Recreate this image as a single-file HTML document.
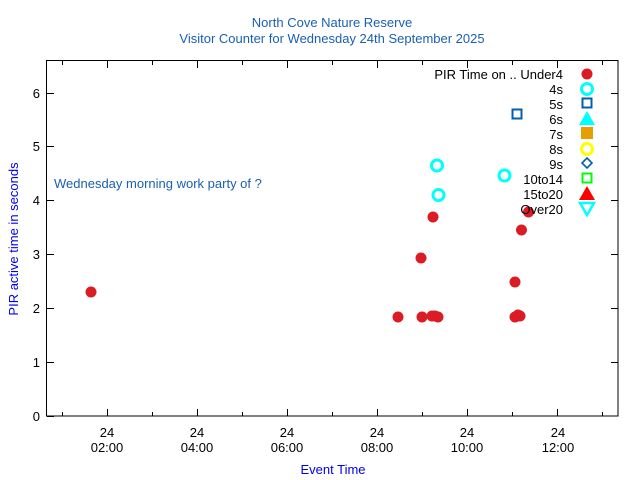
<!DOCTYPE html>
<html><head><style>body{margin:0;background:#fff}svg{display:block}text{font-family:"Liberation Sans",sans-serif}</style></head><body>
<svg width="640" height="480" xmlns="http://www.w3.org/2000/svg">
<rect width="640" height="480" fill="#fff"/>
<text x="332" y="27" font-size="13" fill="#1a5fb4" text-anchor="middle">North Cove Nature Reserve</text>
<text x="332" y="43" font-size="13" fill="#1a5fb4" text-anchor="middle">Visitor Counter for Wednesday 24th September 2025</text>
<rect x="46.5" y="60.5" width="571.5" height="355.5" fill="none" stroke="#000" stroke-width="1"/>
<g stroke="#000" stroke-width="1">
<path d="M107.5 416v-7M197.5 416v-7M287.5 416v-7M377.5 416v-7M467.5 416v-7M557.5 416v-7M107.5 61v7M197.5 61v7M287.5 61v7M377.5 61v7M467.5 61v7M557.5 61v7"/>
<path d="M62.5 416v-4M152.5 416v-4M242.5 416v-4M332.5 416v-4M422.5 416v-4M512.5 416v-4M602.5 416v-4M62.5 61v4M152.5 61v4M242.5 61v4M332.5 61v4M422.5 61v4M512.5 61v4M602.5 61v4"/>
<path d="M47 416.5h7M47 362.5h7M47 308.5h7M47 254.5h7M47 200.5h7M47 146.5h7M47 93.5h7M618 362.5h-7M618 308.5h-7M618 254.5h-7M618 200.5h-7M618 146.5h-7M618 93.5h-7"/>
</g>
<g font-size="13" fill="#000" text-anchor="end">
<text x="40" y="421">0</text><text x="40" y="367">1</text><text x="40" y="313">2</text><text x="40" y="259">3</text><text x="40" y="205">4</text><text x="40" y="151">5</text><text x="40" y="98">6</text>
</g>
<g font-size="13" fill="#000" text-anchor="middle">
<text x="107" y="437">24</text><text x="107" y="452">02:00</text>
<text x="197" y="437">24</text><text x="197" y="452">04:00</text>
<text x="287" y="437">24</text><text x="287" y="452">06:00</text>
<text x="377" y="437">24</text><text x="377" y="452">08:00</text>
<text x="467" y="437">24</text><text x="467" y="452">10:00</text>
<text x="558" y="437">24</text><text x="558" y="452">12:00</text>
</g>
<text x="333" y="474" font-size="13" fill="#0000ee" text-anchor="middle">Event Time</text>
<text transform="translate(18 239) rotate(-90)" font-size="13" fill="#0000ee" text-anchor="middle">PIR active time in seconds</text>
<text x="54" y="188" font-size="13" fill="#1a5fb4">Wednesday morning work party of ?</text>
<g fill="#dc1c24">
<circle cx="91" cy="292" r="5.5"/><circle cx="398" cy="317" r="5.5"/><circle cx="422" cy="317" r="5.5"/><circle cx="421" cy="258" r="5.5"/><circle cx="433" cy="217" r="5.5"/><circle cx="432" cy="316" r="5.5"/><circle cx="435" cy="316" r="5.5"/><circle cx="438" cy="317" r="5.5"/><circle cx="528.5" cy="212" r="5.5"/><circle cx="521.5" cy="230" r="5.5"/><circle cx="515" cy="282" r="5.5"/><circle cx="515" cy="317" r="5.5"/><circle cx="518" cy="315" r="5.5"/><circle cx="520" cy="316" r="5.5"/>
<circle cx="587" cy="74" r="5.5"/>
</g>
<g fill="none" stroke="#00ffff" stroke-width="3">
<circle cx="437" cy="165.5" r="5.5"/><circle cx="438.5" cy="195" r="5.5"/><circle cx="504.5" cy="175.5" r="5.5"/><circle cx="587" cy="89" r="5.5"/>
</g>
<rect x="512.5" y="109.5" width="9" height="9" fill="none" stroke="#0060ad" stroke-width="2"/>
<g font-size="13" fill="#000" text-anchor="end">
<text x="563" y="79">PIR Time on .. Under4</text><text x="563" y="94">4s</text><text x="563" y="109">5s</text><text x="563" y="124">6s</text><text x="563" y="139">7s</text><text x="563" y="154">8s</text><text x="563" y="169">9s</text><text x="563" y="184">10to14</text><text x="563" y="199">15to20</text><text x="563" y="214">Over20</text>
</g>
<rect x="582.5" y="98.5" width="9" height="9" fill="none" stroke="#0060ad" stroke-width="2"/>
<path d="M587 111l8 14h-16z" fill="#00ffff"/>
<rect x="581" y="127" width="12" height="12" fill="#e69f00"/>
<circle cx="587" cy="149" r="5.5" fill="none" stroke="#ffff00" stroke-width="3"/>
<path d="M587 158l5 5-5 5-5-5z" fill="none" stroke="#0060ad" stroke-width="1.6"/>
<rect x="582.5" y="173.5" width="9" height="9" fill="none" stroke="#00ff00" stroke-width="2"/>
<path d="M587 186l8 14h-16z" fill="#ff0000"/>
<path d="M580 203h14l-7 12z" fill="none" stroke="#00ffff" stroke-width="2.5"/>
</svg>
</body></html>
